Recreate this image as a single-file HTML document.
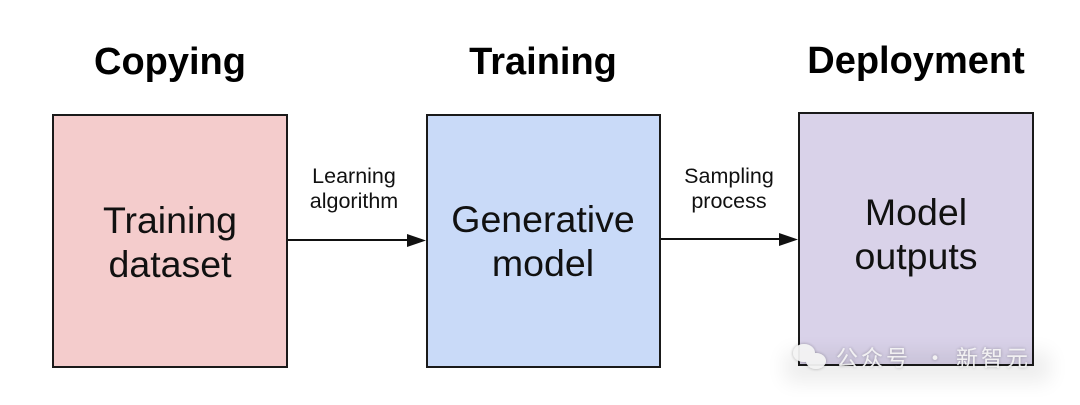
<!DOCTYPE html>
<html>
<head>
<meta charset="utf-8">
<style>
  html, body { margin: 0; padding: 0; background: #ffffff; }
  body { width: 1080px; height: 405px; overflow: hidden; }
  svg { display: block; }
  .title { font-family: "Liberation Sans", sans-serif; font-weight: bold; font-size: 38px; fill: #000; }
  .box { font-family: "Liberation Sans", sans-serif; font-size: 37.5px; fill: #111; }
  .lbl { font-family: "Liberation Sans", sans-serif; font-size: 21.5px; fill: #111; }
  .wm { font-family: "Noto Sans CJK SC", "WenQuanYi Zen Hei", sans-serif; font-size: 22px; fill: #f4f4f4; letter-spacing: 3px; }
</style>
</head>
<body>
<svg width="1080" height="405" viewBox="0 0 1080 405" xmlns="http://www.w3.org/2000/svg">
  <defs>
    <filter id="glow" x="-20%" y="-50%" width="140%" height="200%">
      <feGaussianBlur stdDeviation="10"/>
    </filter>
    <filter id="ts" x="-10%" y="-30%" width="120%" height="160%">
      <feDropShadow dx="0" dy="0" stdDeviation="1.5" flood-color="#000" flood-opacity="0.3"/>
    </filter>
  </defs>

  <!-- Titles -->
  <text class="title" x="170" y="74" text-anchor="middle">Copying</text>
  <text class="title" x="543" y="74" text-anchor="middle">Training</text>
  <text class="title" x="916" y="73" text-anchor="middle">Deployment</text>

  <!-- Boxes -->
  <rect x="53" y="115" width="234" height="252" fill="#f4cccc" stroke="#1a1a1a" stroke-width="2"/>
  <rect x="427" y="115" width="233" height="252" fill="#c9daf8" stroke="#1a1a1a" stroke-width="2"/>
  <rect x="799" y="113" width="234" height="252" fill="#d9d2e9" stroke="#1a1a1a" stroke-width="2"/>

  <!-- Box texts -->
  <text class="box" x="170" y="233" text-anchor="middle">Training</text>
  <text class="box" x="170" y="277" text-anchor="middle">dataset</text>

  <text class="box" x="543" y="232" text-anchor="middle">Generative</text>
  <text class="box" x="543" y="276" text-anchor="middle">model</text>

  <text class="box" x="916" y="225" text-anchor="middle">Model</text>
  <text class="box" x="916" y="269" text-anchor="middle">outputs</text>

  <!-- Arrow 1 -->
  <line x1="288" y1="240" x2="410" y2="240" stroke="#111" stroke-width="2"/>
  <polygon points="407,234 426,240.5 407,247" fill="#111"/>
  <text class="lbl" x="354" y="183" text-anchor="middle">Learning</text>
  <text class="lbl" x="354" y="208" text-anchor="middle">algorithm</text>

  <!-- Arrow 2 -->
  <line x1="661" y1="239" x2="782" y2="239" stroke="#111" stroke-width="2"/>
  <polygon points="779,233 798,239.5 779,246" fill="#111"/>
  <text class="lbl" x="729" y="183" text-anchor="middle">Sampling</text>
  <text class="lbl" x="729" y="208" text-anchor="middle">process</text>

  <!-- Watermark -->
  <rect x="785" y="352" width="265" height="30" fill="#000" opacity="0.07" filter="url(#glow)"/>
  <g filter="url(#ts)" opacity="0.95">
    <ellipse cx="804" cy="353" rx="11" ry="9" fill="#f4f4f4"/>
    <ellipse cx="816" cy="361" rx="10" ry="8" fill="#f4f4f4"/>
    <text class="wm" x="836" y="366">公众号</text>
    <text class="wm" x="924" y="366">·</text>
    <text class="wm" x="956" y="366">新智元</text>
  </g>
</svg>
</body>
</html>
